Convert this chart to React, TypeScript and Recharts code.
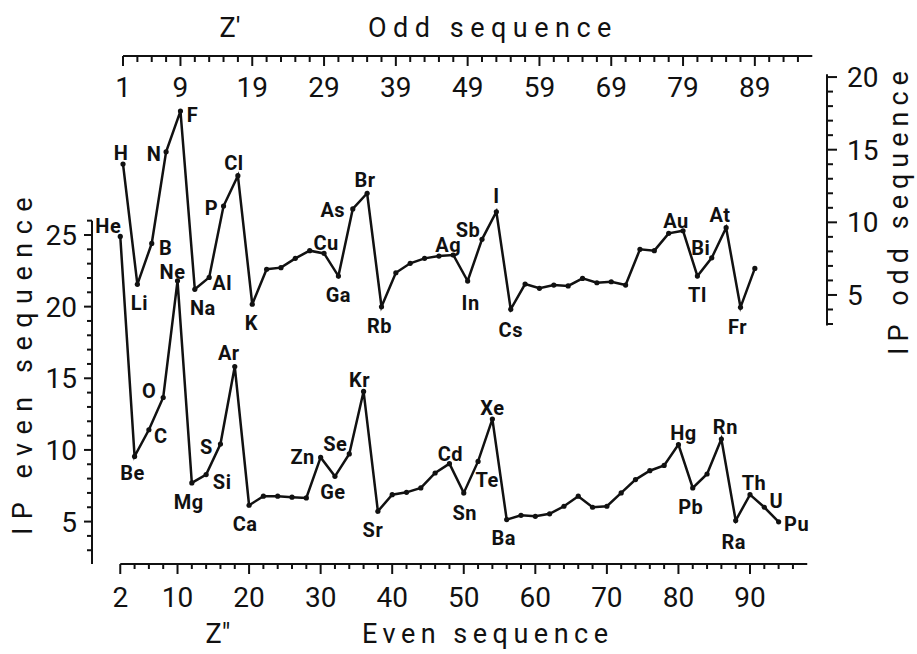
import React from "react";
import { LineChart, Line, XAxis, YAxis, ReferenceLine, LabelList } from "recharts";

// even sequence (bottom / left axes)
const EVEN_Z = [2, 4, 6, 8, 10, 12, 14, 16, 18, 20, 22, 24, 26, 28, 30, 32, 34, 36, 38, 40, 42, 44, 46, 48, 50, 52, 54, 56, 58, 60, 62, 64, 66, 68, 70, 72, 74, 76, 78, 80, 82, 84, 86, 88, 90, 92, 94];
const EVEN_IP = [24.9, 9.55, 11.41, 13.66, 21.8, 7.7, 8.28, 10.41, 15.82, 6.14, 6.77, 6.77, 6.7, 6.65, 9.48, 8.16, 9.72, 14.08, 5.72, 6.88, 7.04, 7.35, 8.39, 9.04, 7.0, 9.2, 12.15, 5.14, 5.44, 5.37, 5.54, 6.07, 6.77, 6.0, 6.07, 7.0, 7.93, 8.55, 8.92, 10.37, 7.35, 8.32, 10.76, 5.07, 6.88, 6.0, 4.98];
const EVEN_SYM = ["He", "Be", "C", "O", "Ne", "Mg", "Si", "S", "Ar", "Ca", "", "", "", "", "Zn", "Ge", "Se", "Kr", "Sr", "", "", "", "", "Cd", "Sn", "Te", "Xe", "Ba", "", "", "", "", "", "", "", "", "", "", "", "Hg", "Pb", "", "Rn", "Ra", "Th", "U", "Pu"];

// odd sequence (top / right axes)
const ODD_Z = [1, 3, 5, 7, 9, 11, 13, 15, 17, 19, 21, 23, 25, 27, 29, 31, 33, 35, 37, 39, 41, 43, 45, 47, 49, 51, 53, 55, 57, 59, 61, 63, 65, 67, 69, 71, 73, 75, 77, 79, 81, 83, 85, 87, 89];
const ODD_IP = [14.01, 5.73, 8.55, 14.86, 17.66, 5.39, 6.21, 11.12, 13.21, 4.36, 6.77, 6.88, 7.52, 8.05, 7.86, 6.3, 10.92, 12.0, 4.19, 6.53, 7.18, 7.52, 7.68, 7.75, 5.96, 8.83, 10.73, 4.01, 5.75, 5.46, 5.68, 5.62, 6.14, 5.84, 5.91, 5.68, 8.14, 8.05, 9.24, 9.42, 6.3, 7.56, 9.63, 4.15, 6.83];
const ODD_SYM = ["H", "Li", "B", "N", "F", "Na", "Al", "P", "Cl", "K", "", "", "", "", "Cu", "Ga", "As", "Br", "Rb", "", "", "", "", "Ag", "In", "Sb", "I", "Cs", "", "", "", "", "", "", "", "", "", "", "", "Au", "Tl", "Bi", "At", "Fr", ""];

// tick labels
const EVEN_X_LABELS = [2, 10, 20, 30, 40, 50, 60, 70, 80, 90];
const ODD_X_LABELS = [1, 9, 19, 29, 39, 49, 59, 69, 79, 89];
const EVEN_Y_LABELS = [5, 10, 15, 20, 25];
const ODD_Y_LABELS = [5, 10, 15, 20];

const range = (a: number, b: number, step: number) => {
  const out: number[] = [];
  for (let v = a; v <= b; v += step) out.push(v);
  return out;
};
const EVEN_X_TICKS = range(2, 96, 2);
const ODD_X_TICKS = range(1, 95, 2);
const EVEN_Y_TICKS = range(3, 26, 1);
const ODD_Y_TICKS = range(3, 20, 1);

const EVEN_X_DOMAIN: [number, number] = [-1.95, 100.76];
const ODD_X_DOMAIN: [number, number] = [-3.32, 99.05];
const EVEN_Y_DOMAIN: [number, number] = [2.04, 37.49];
const ODD_Y_DOMAIN: [number, number] = [-13.52, 21.45];

// where each element symbol sits relative to its point
const LABEL_OFFSET: Record<string, [number, number]> = {
  H: [-2, -11], Li: [2, 19], B: [14, 5], N: [-12, 2], F: [12, 4], Na: [8, 19], Al: [13, 6],
  P: [-12, 2], Cl: [-4, -13], K: [-1, 19], Cu: [2, -10], Ga: [0, 19], As: [-20, 1], Br: [-2, -13],
  Rb: [-2, 19], Ag: [-5, -10], In: [3, 22], Sb: [-14, -9], I: [0, -16], Cs: [0, 21], Au: [-7, -10],
  Tl: [0, 19], Bi: [-11, -10], At: [-6, -13], Fr: [-3, 20],
  He: [-12, -10], Be: [-2, 17], C: [12, 6], O: [-14, -6], Ne: [-5, -9], Mg: [-3, 19], Si: [16, 7],
  S: [-14, 3], Ar: [-6, -14], Ca: [-4, 19], Zn: [-18, 0], Ge: [-2, 16], Se: [-14, -10], Kr: [-4, -11],
  Sr: [-5, 19], Cd: [1, -10], Sn: [1, 20], Te: [9, 19], Xe: [0, -11], Ba: [-3, 18], Hg: [5, -12],
  Pb: [-2, 19], Rn: [4, -12], Ra: [-2, 21], Th: [4, -12], U: [12, -6], Pu: [18, 2],
};

const evenData = EVEN_Z.map((z, i) => ({ z, ip: EVEN_IP[i], sym: EVEN_SYM[i] }));
const oddData = ODD_Z.map((z, i) => ({ z, ip: ODD_IP[i], sym: ODD_SYM[i] }));

const INK = "#111";
const FONT = "Roboto, 'DejaVu Sans', sans-serif";

const BottomTick = (props: any) => {
  const { x, y, payload } = props;
  const major = EVEN_X_LABELS.includes(payload.value);
  return (
    <g>
      <line x1={x} y1={y} x2={x} y2={y + (major ? 10 : 5)} stroke={INK} strokeWidth={2} />
      {major && (
        <text x={x} y={y + 43} textAnchor="middle" fontSize={28} fontFamily={FONT} fill={INK}>
          {payload.value}
        </text>
      )}
    </g>
  );
};

const TopTick = (props: any) => {
  const { x, y, payload } = props;
  const major = ODD_X_LABELS.includes(payload.value);
  return (
    <g>
      <line x1={x} y1={y} x2={x} y2={y + (major ? 10 : 6)} stroke={INK} strokeWidth={2} />
      {major && (
        <text x={x} y={y + 41} textAnchor="middle" fontSize={28} fontFamily={FONT} fill={INK}>
          {payload.value}
        </text>
      )}
    </g>
  );
};

const LeftTick = (props: any) => {
  const { x, y, payload } = props;
  const major = EVEN_Y_LABELS.includes(payload.value);
  return (
    <g>
      <line x1={x - (major ? 8 : 5)} y1={y} x2={x} y2={y} stroke={INK} strokeWidth={2} />
      {major && (
        <text x={x - 15} y={y + 10} textAnchor="end" fontSize={28} fontFamily={FONT} fill={INK}>
          {payload.value}
        </text>
      )}
    </g>
  );
};

const RightTick = (props: any) => {
  const { x, y, payload } = props;
  const major = ODD_Y_LABELS.includes(payload.value);
  return (
    <g>
      <line x1={x} y1={y} x2={x + (major ? 10 : 6)} y2={y} stroke={INK} strokeWidth={2} />
      {major && (
        <text x={x + 20} y={y + 10} textAnchor="start" fontSize={28} fontFamily={FONT} fill={INK}>
          {payload.value}
        </text>
      )}
    </g>
  );
};

const titleStyle = { fontSize: 27, fontFamily: FONT, fill: INK };

const TopTitle = ({ viewBox }: any) => (
  <g>
    <text x={viewBox.x + 138} y={viewBox.y + 37} textAnchor="middle" {...titleStyle}>Z′</text>
    <text x={viewBox.x + 276} y={viewBox.y + 37} letterSpacing={6.5} {...titleStyle}>Odd sequence</text>
  </g>
);

const BottomTitle = ({ viewBox }: any) => (
  <g>
    <text x={viewBox.x + 126} y={viewBox.y + 79} textAnchor="middle" {...titleStyle}>Z″</text>
    <text x={viewBox.x + 270} y={viewBox.y + 79} letterSpacing={5.5} {...titleStyle}>Even sequence</text>
  </g>
);

const LeftTitle = ({ viewBox }: any) => (
  <text
    transform={`translate(${viewBox.x + 32},${viewBox.y + 306}) rotate(-90)`}
    textAnchor="middle"
    letterSpacing={8.5}
    {...titleStyle}
  >
    IP even sequence
  </text>
);

const RightTitle = ({ viewBox }: any) => (
  <text
    transform={`translate(${viewBox.x + 81},${viewBox.y + 154}) rotate(-90)`}
    textAnchor="middle"
    letterSpacing={6}
    {...titleStyle}
  >
    IP odd sequence
  </text>
);

const ElementLabel = (props: any) => {
  const { x, y, value } = props;
  if (!value) return null;
  const [dx, dy] = LABEL_OFFSET[value] || [0, -12];
  return (
    <text
      x={x + dx}
      y={y + dy}
      textAnchor="middle"
      dominantBaseline="central"
      fontSize={20}
      fontWeight={700}
      letterSpacing={0.5}
      fontFamily={FONT}
      fill={INK}
    >
      {value}
    </text>
  );
};

const dot = { r: 2.6, fill: INK, stroke: INK, strokeWidth: 0 };

export default function App() {
  return (
    <div style={{ position: "absolute", left: 0, top: 0, background: "#fff" }}>
      <LineChart width={917} height={654} margin={{ top: 0, right: 0, bottom: 0, left: 0 }}>
        <XAxis
          xAxisId="even"
          dataKey="z"
          type="number"
          orientation="bottom"
          height={90}
          domain={EVEN_X_DOMAIN}
          allowDataOverflow
          ticks={EVEN_X_TICKS}
          interval={0}
          tick={<BottomTick />}
          tickSize={0}
          tickMargin={0}
          tickLine={false}
          axisLine={false}
          label={BottomTitle}
        />
        <XAxis
          xAxisId="odd"
          dataKey="z"
          type="number"
          orientation="top"
          height={56}
          domain={ODD_X_DOMAIN}
          allowDataOverflow
          ticks={ODD_X_TICKS}
          interval={0}
          tick={<TopTick />}
          tickSize={0}
          tickMargin={0}
          tickLine={false}
          axisLine={false}
          label={TopTitle}
        />
        <YAxis
          yAxisId="even"
          type="number"
          orientation="left"
          width={92}
          domain={EVEN_Y_DOMAIN}
          allowDataOverflow
          ticks={EVEN_Y_TICKS}
          interval={0}
          tick={<LeftTick />}
          tickSize={0}
          tickMargin={0}
          tickLine={false}
          axisLine={false}
          label={LeftTitle}
        />
        <YAxis
          yAxisId="odd"
          type="number"
          orientation="right"
          width={90}
          domain={ODD_Y_DOMAIN}
          allowDataOverflow
          ticks={ODD_Y_TICKS}
          interval={0}
          tick={<RightTick />}
          tickSize={0}
          tickMargin={0}
          tickLine={false}
          axisLine={false}
          label={RightTitle}
        />

        {/* axis lines, drawn only over the span the original uses */}
        <ReferenceLine
          xAxisId="even"
          yAxisId="even"
          segment={[{ x: 2, y: EVEN_Y_DOMAIN[0] }, { x: 98, y: EVEN_Y_DOMAIN[0] }]}
          stroke={INK}
          strokeWidth={2}
          ifOverflow="visible"
        />
        <ReferenceLine
          xAxisId="even"
          yAxisId="even"
          segment={[{ x: EVEN_X_DOMAIN[0], y: EVEN_Y_DOMAIN[0] }, { x: EVEN_X_DOMAIN[0], y: 26 }]}
          stroke={INK}
          strokeWidth={2}
          ifOverflow="visible"
        />
        <ReferenceLine
          xAxisId="odd"
          yAxisId="odd"
          segment={[{ x: 1, y: ODD_Y_DOMAIN[1] }, { x: 97, y: ODD_Y_DOMAIN[1] }]}
          stroke={INK}
          strokeWidth={2}
          ifOverflow="visible"
        />
        <ReferenceLine
          xAxisId="odd"
          yAxisId="odd"
          segment={[{ x: ODD_X_DOMAIN[1], y: 2.9 }, { x: ODD_X_DOMAIN[1], y: 20.2 }]}
          stroke={INK}
          strokeWidth={2}
          ifOverflow="visible"
        />

        <Line
          xAxisId="odd"
          yAxisId="odd"
          data={oddData}
          dataKey="ip"
          type="linear"
          stroke={INK}
          strokeWidth={2.5}
          dot={dot}
          activeDot={false}
          isAnimationActive={false}
        >
          <LabelList dataKey="sym" content={ElementLabel} />
        </Line>
        <Line
          xAxisId="even"
          yAxisId="even"
          data={evenData}
          dataKey="ip"
          type="linear"
          stroke={INK}
          strokeWidth={2.5}
          dot={dot}
          activeDot={false}
          isAnimationActive={false}
        >
          <LabelList dataKey="sym" content={ElementLabel} />
        </Line>
      </LineChart>
    </div>
  );
}
